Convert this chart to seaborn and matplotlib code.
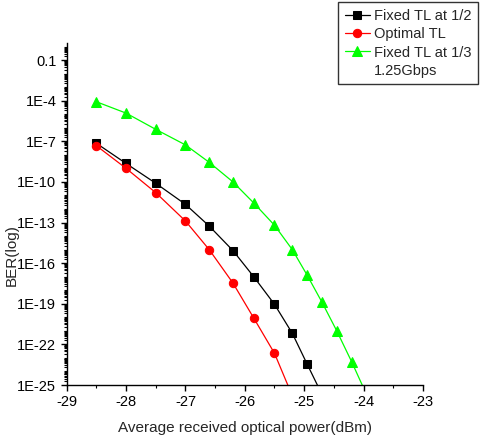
import matplotlib
matplotlib.use("Agg")
import matplotlib.pyplot as plt
import matplotlib.ticker as mticker
from matplotlib.lines import Line2D
import seaborn as sns
import pandas as pd

# received power (dBm)
power_half = [-28.5, -28, -27.5, -27, -26.6, -26.2, -25.85, -25.5, -25.2, -24.95, -24.7]
power_opt = [-28.5, -28, -27.5, -27, -26.6, -26.2, -25.85, -25.5, -25.2]
power_third = [-28.5, -28, -27.5, -27, -26.6, -26.2, -25.85, -25.5, -25.2, -24.95,
               -24.7, -24.45, -24.2, -23.95]

# BER values
ber_half = [7.1e-8, 2.3e-9, 7.9e-11, 2.2e-12, 5.5e-14, 8.5e-16, 1.0e-17, 9.1e-20,
            6.6e-22, 3.5e-24, 2e-26]
ber_opt = [4.7e-8, 1.0e-9, 1.6e-11, 1.3e-13, 1.0e-15, 3.4e-18, 8.9e-21, 2.2e-23, 1.6e-26]
ber_third = [8.3e-5, 1.2e-5, 7.6e-7, 5.4e-8, 2.8e-9, 1.0e-10, 2.8e-12, 6.3e-14, 1.0e-15,
             1.3e-17, 1.3e-19, 9.8e-22, 5.2e-24, 2e-26]

y_ticks = [1e-25, 1e-22, 1e-19, 1e-16, 1e-13, 1e-10, 1e-7, 1e-4, 0.1]
y_labels = ["1E-25", "1E-22", "1E-19", "1E-16", "1E-13", "1E-10", "1E-7", "1E-4", "0.1"]
x_ticks = [-29, -28, -27, -26, -25, -24, -23]

sns.set_style("ticks")
plt.rcParams['font.family'] = ['Liberation Sans Narrow', 'Liberation Sans', 'DejaVu Sans']

fig = plt.figure(figsize=(4.8, 4.4), dpi=100)
ax = fig.add_axes([0.139, 0.125, 0.742, 0.777])

df_half = pd.DataFrame({"p": power_half, "ber": ber_half})
df_opt = pd.DataFrame({"p": power_opt, "ber": ber_opt})
df_third = pd.DataFrame({"p": power_third, "ber": ber_third})

sns.lineplot(data=df_half, x="p", y="ber", ax=ax, color="black", marker="s",
             markersize=5.5, markeredgecolor="black", linewidth=0.9, label="Fixed TL at 1/2")
sns.lineplot(data=df_opt, x="p", y="ber", ax=ax, color="#ff0000", marker="o",
             markersize=6, markeredgecolor="#ff0000", linewidth=0.9, label="Optimal TL")
sns.lineplot(data=df_third, x="p", y="ber", ax=ax, color="#00ff00", marker="^",
             markersize=6.5, markeredgecolor="#00ff00", linewidth=0.9, label="Fixed TL at 1/3")

ax.set_yscale("log")
ax.set_ylim(1e-25, 10 ** 0.25)
ax.set_xlim(-29, -23)
ax.yaxis.set_major_locator(mticker.FixedLocator(y_ticks))
ax.yaxis.set_major_formatter(mticker.FixedFormatter(y_labels))
minor_y = [m * 10.0 ** e for e in range(-25, 0) for m in range(1, 10)]
ax.yaxis.set_minor_locator(mticker.FixedLocator(minor_y))
ax.yaxis.set_minor_formatter(mticker.NullFormatter())
ax.set_xticks(x_ticks)
ax.set_xticklabels([str(t) for t in x_ticks])
ax.xaxis.set_minor_locator(mticker.MultipleLocator(0.5))

ax.tick_params(which="major", direction="out", length=4, width=1, labelsize=10.5, colors="black")
ax.tick_params(which="minor", direction="out", length=2.5, width=0.8, colors="black")
for s in ["top", "right"]:
    ax.spines[s].set_visible(False)
for s in ["left", "bottom"]:
    ax.spines[s].set_color("black")
    ax.spines[s].set_linewidth(1)

ax.set_xlabel("Average received optical power(dBm)", fontsize=11, labelpad=8)
ax.set_ylabel("BER(log)", fontsize=11)
ax.yaxis.set_label_coords(-0.135, 0.38)

handles, labels = ax.get_legend_handles_labels()
handles.append(Line2D([], [], linestyle="none"))
labels.append("1.25Gbps")
leg = ax.legend(handles, labels, loc="upper right", fontsize=10.5, frameon=True,
                fancybox=False, edgecolor="black", handlelength=1.7, handletextpad=0.3,
                borderpad=0.45, labelspacing=0.3, borderaxespad=0)
leg.set_bbox_to_anchor((0.996, 0.995), transform=fig.transFigure)
leg.get_frame().set_linewidth(1)

fig.savefig("out.png", dpi=100)
